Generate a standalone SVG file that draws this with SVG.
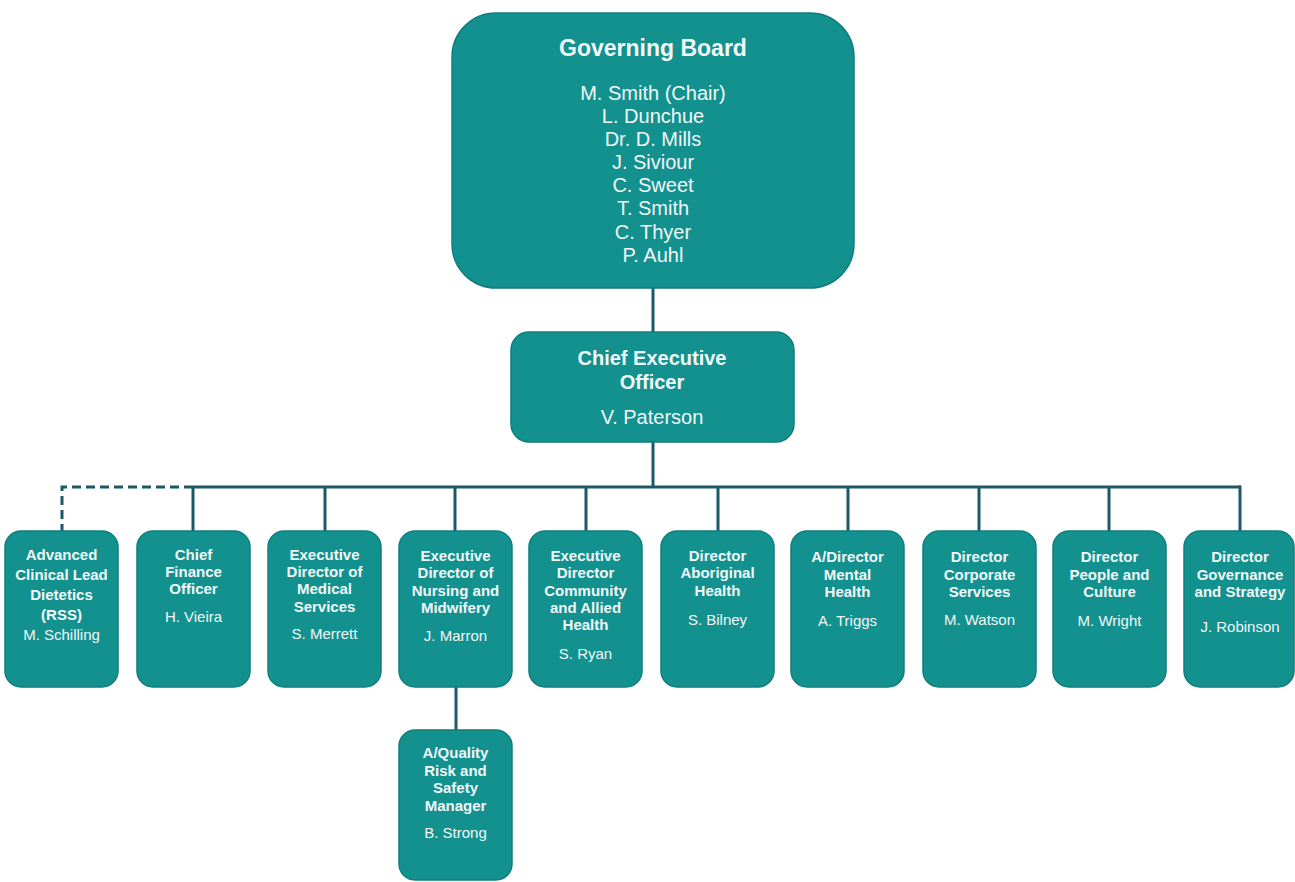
<svg xmlns="http://www.w3.org/2000/svg" width="1295" height="882" viewBox="0 0 1295 882">
<style>
.box{fill:#12918f;stroke:#0e7f7e;stroke-width:1.5}
.t{font-family:"Liberation Sans",Arial,sans-serif;fill:#f2f7f7;text-anchor:middle}
.b{font-weight:bold}
.s15{font-size:15px}
.s20{font-size:20px}
.s23{font-size:23px}
.ln{stroke:#1d5866;stroke-width:3;fill:none}
.dash{stroke-dasharray:9 5}
</style>
<rect width="1295" height="882" fill="#ffffff"/>
<g id="connectors">
<line class="ln" x1="653" y1="288" x2="653" y2="333"/>
<line class="ln" x1="653" y1="441" x2="653" y2="487"/>
<line class="ln" x1="193" y1="487" x2="1241" y2="487"/>
<path class="ln dash" d="M193 487 H62 V531"/>
<line class="ln" x1="193" y1="487" x2="193" y2="531"/>
<line class="ln" x1="325" y1="487" x2="325" y2="531"/>
<line class="ln" x1="455" y1="487" x2="455" y2="531"/>
<line class="ln" x1="586" y1="487" x2="586" y2="531"/>
<line class="ln" x1="718" y1="487" x2="718" y2="531"/>
<line class="ln" x1="848" y1="487" x2="848" y2="531"/>
<line class="ln" x1="979" y1="487" x2="979" y2="531"/>
<line class="ln" x1="1109" y1="487" x2="1109" y2="531"/>
<line class="ln" x1="1240" y1="485.5" x2="1240" y2="531"/>
<line class="ln" x1="456" y1="687" x2="456" y2="730"/>
</g>
<g id="board">
<rect class="box" x="452" y="13" width="402" height="275" rx="44"/>
<text class="t b s23" x="653" y="56">Governing Board</text>
<text class="t s20" x="653" y="100">M. Smith (Chair)</text>
<text class="t s20" x="653" y="123">L. Dunchue</text>
<text class="t s20" x="653" y="146">Dr. D. Mills</text>
<text class="t s20" x="653" y="169">J. Siviour</text>
<text class="t s20" x="653" y="192">C. Sweet</text>
<text class="t s20" x="653" y="215">T. Smith</text>
<text class="t s20" x="653" y="239">C. Thyer</text>
<text class="t s20" x="653" y="262">P. Auhl</text>
</g>
<g id="ceo">
<rect class="box" x="511" y="332" width="283" height="110" rx="18"/>
<text class="t b s20" x="652" y="365">Chief Executive</text>
<text class="t b s20" x="652" y="389">Officer</text>
<text class="t s20" x="652" y="424">V. Paterson</text>
</g>
<g id="dietetics">
<rect class="box" x="5" y="531" width="113" height="156" rx="16"/>
<text class="t b s15" x="61.5" y="560">Advanced</text>
<text class="t b s15" x="61.5" y="580">Clinical Lead</text>
<text class="t b s15" x="61.5" y="600">Dietetics</text>
<text class="t b s15" x="61.5" y="620">(RSS)</text>
<text class="t s15" x="61.5" y="640">M. Schilling</text>
</g>
<g id="cfo">
<rect class="box" x="137" y="531" width="113" height="156" rx="16"/>
<text class="t b s15" x="193.5" y="560">Chief</text>
<text class="t b s15" x="193.5" y="577">Finance</text>
<text class="t b s15" x="193.5" y="594">Officer</text>
<text class="t s15" x="193.5" y="622">H. Vieira</text>
</g>
<g id="medical">
<rect class="box" x="268" y="531" width="113" height="156" rx="16"/>
<text class="t b s15" x="324.5" y="560">Executive</text>
<text class="t b s15" x="324.5" y="577">Director of</text>
<text class="t b s15" x="324.5" y="594">Medical</text>
<text class="t b s15" x="324.5" y="612">Services</text>
<text class="t s15" x="324.5" y="639">S. Merrett</text>
</g>
<g id="nursing">
<rect class="box" x="399" y="531" width="113" height="156" rx="16"/>
<text class="t b s15" x="455.5" y="561">Executive</text>
<text class="t b s15" x="455.5" y="578">Director of</text>
<text class="t b s15" x="455.5" y="596">Nursing and</text>
<text class="t b s15" x="455.5" y="613">Midwifery</text>
<text class="t s15" x="455.5" y="641">J. Marron</text>
</g>
<g id="community">
<rect class="box" x="529" y="531" width="113" height="156" rx="16"/>
<text class="t b s15" x="585.5" y="561">Executive</text>
<text class="t b s15" x="585.5" y="578">Director</text>
<text class="t b s15" x="585.5" y="596">Community</text>
<text class="t b s15" x="585.5" y="613">and Allied</text>
<text class="t b s15" x="585.5" y="630">Health</text>
<text class="t s15" x="585.5" y="659">S. Ryan</text>
</g>
<g id="aboriginal">
<rect class="box" x="661" y="531" width="113" height="156" rx="16"/>
<text class="t b s15" x="717.5" y="561">Director</text>
<text class="t b s15" x="717.5" y="578">Aboriginal</text>
<text class="t b s15" x="717.5" y="596">Health</text>
<text class="t s15" x="717.5" y="625">S. Bilney</text>
</g>
<g id="mental">
<rect class="box" x="791" y="531" width="113" height="156" rx="16"/>
<text class="t b s15" x="847.5" y="562">A/Director</text>
<text class="t b s15" x="847.5" y="580">Mental</text>
<text class="t b s15" x="847.5" y="597">Health</text>
<text class="t s15" x="847.5" y="626">A. Triggs</text>
</g>
<g id="corporate">
<rect class="box" x="923" y="531" width="113" height="156" rx="16"/>
<text class="t b s15" x="979.5" y="562">Director</text>
<text class="t b s15" x="979.5" y="580">Corporate</text>
<text class="t b s15" x="979.5" y="597">Services</text>
<text class="t s15" x="979.5" y="625">M. Watson</text>
</g>
<g id="people">
<rect class="box" x="1053" y="531" width="113" height="156" rx="16"/>
<text class="t b s15" x="1109.5" y="562">Director</text>
<text class="t b s15" x="1109.5" y="580">People and</text>
<text class="t b s15" x="1109.5" y="597">Culture</text>
<text class="t s15" x="1109.5" y="626">M. Wright</text>
</g>
<g id="governance">
<rect class="box" x="1184" y="531" width="110" height="156" rx="16"/>
<text class="t b s15" x="1240" y="562">Director</text>
<text class="t b s15" x="1240" y="580">Governance</text>
<text class="t b s15" x="1240" y="597">and Strategy</text>
<text class="t s15" x="1240" y="632">J. Robinson</text>
</g>
<g id="quality">
<rect class="box" x="399" y="730" width="113" height="150" rx="16"/>
<text class="t b s15" x="455.5" y="758">A/Quality</text>
<text class="t b s15" x="455.5" y="776">Risk and</text>
<text class="t b s15" x="455.5" y="793">Safety</text>
<text class="t b s15" x="455.5" y="811">Manager</text>
<text class="t s15" x="455.5" y="838">B. Strong</text>
</g>
</svg>
